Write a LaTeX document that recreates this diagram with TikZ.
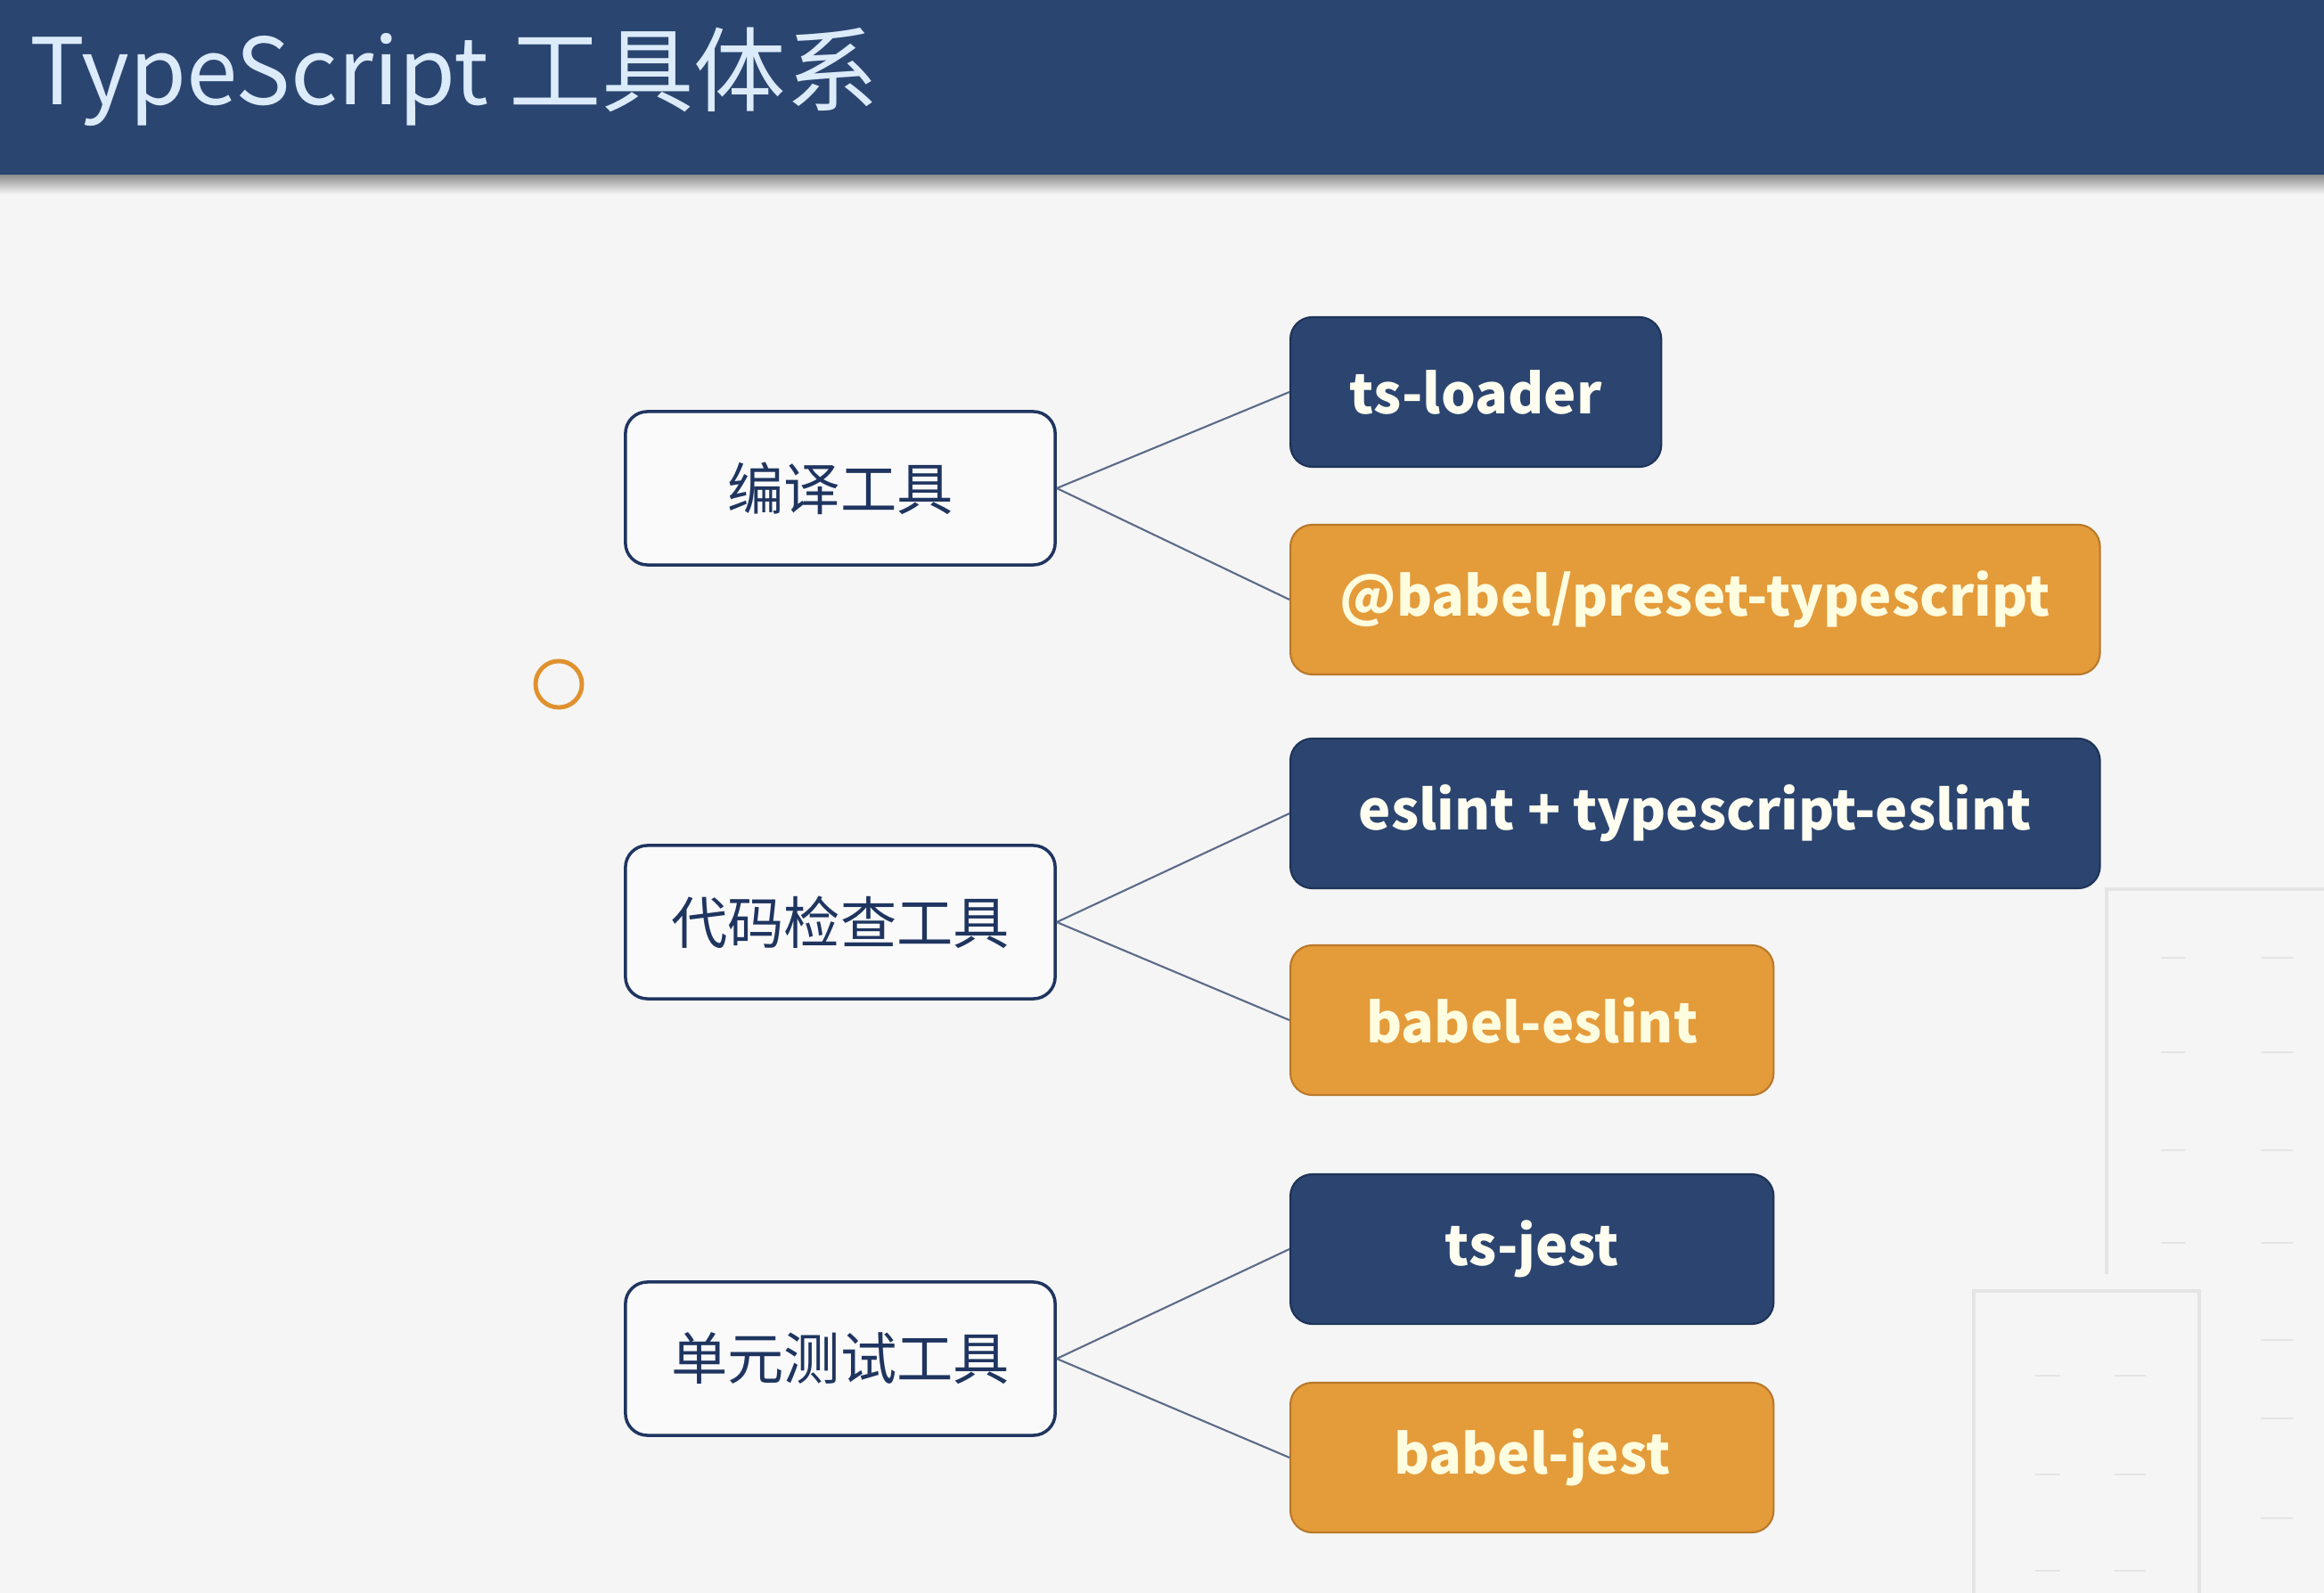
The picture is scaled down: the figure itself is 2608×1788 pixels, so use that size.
\documentclass[tikz,border=0pt]{standalone}
\usepackage{fontspec}
\setmainfont{Noto Sans CJK SC}
\usetikzlibrary{positioning}
\definecolor{pagebg}{HTML}{F5F5F5}
\definecolor{barfill}{HTML}{2A4570}
\definecolor{titletext}{HTML}{DCEBFA}
\definecolor{navyfill}{HTML}{2B4570}
\definecolor{navyframe}{HTML}{1E3358}
\definecolor{orangefill}{HTML}{E49B3A}
\definecolor{orangeframe}{HTML}{B9782A}
\definecolor{catframe}{HTML}{1F3560}
\definecolor{linkline}{HTML}{5B6B88}
\definecolor{ringcol}{HTML}{E0912E}
\definecolor{ghost}{HTML}{E4E4E4}
\tikzset{
  catbox/.style={
    draw=catframe,
    fill=white!50!pagebg,
    line width=1pt,
    rounded corners=7pt,
    minimum width=4.82cm,
    minimum height=1.72cm,
    text=catframe,
    font=\fontsize{18}{22}\selectfont
  },
  toolbox/.style={
    anchor=west,
    rounded corners=7pt,
    minimum height=1.68cm,
    line width=0.6pt,
    font=\fontsize{17.4}{21}\selectfont\bfseries
  },
  navybox/.style={toolbox, fill=navyfill, draw=navyframe, text=white!94!yellow},
  orangebox/.style={toolbox, fill=orangefill, draw=orangeframe, text=white!88!yellow},
  link/.style={draw=linkline, line width=0.6pt},
  ghostline/.style={draw=ghost, line width=1.2pt}
}

\begin{document}
\begin{tikzpicture}[x=0.01cm, y=-0.01cm]
  \useasboundingbox (0,0) rectangle (2608,1788);
  \fill[pagebg] (0,0) rectangle (2608,1788);

  % faint frames left over at the lower right
  \draw[ghostline] (2364,1430) -- (2364,998) -- (2608,998);
  \foreach \y in {1075,1181,1291,1395} {
    \draw[ghost] (2425,\y) -- (2452,\y);
  }
  \foreach \y in {1075,1181,1291,1395,1504,1592,1704} {
    \draw[ghost] (2537,\y) -- (2573,\y);
  }
  \draw[ghostline] (2215,1788) -- (2215,1449) -- (2468,1449) -- (2468,1788);
  \foreach \y in {1544,1655,1763} {
    \draw[ghost] (2284,\y) -- (2312,\y);
    \draw[ghost] (2373,\y) -- (2408,\y);
  }

  % title bar
  \shade[top color=black!45, bottom color=pagebg] (0,196) rectangle (2608,218);
  \fill[barfill] (0,0) rectangle (2608,196);
  \node[anchor=base west, inner sep=0pt, text=titletext, font=\fontsize{29.4}{35}\selectfont] (title) at (33,118) {TypeScript 工具体系};

  % categories
  \node[catbox] (compile) at (943,548) {编译工具};
  \node[catbox] (lint) at (943,1035) {代码检查工具};
  \node[catbox] (test) at (943,1525) {单元测试工具};

  % tools
  \node[navybox, minimum width=4.16cm] (tsloader) at (1447,440) {ts-loader};
  \node[orangebox, minimum width=9.08cm] (presetts) at (1447,673) {@babel/preset-typescript};
  \node[navybox, minimum width=9.08cm] (tseslint) at (1447,913) {eslint + typescript-eslint};
  \node[orangebox, minimum width=5.42cm] (babeleslint) at (1447,1145) {babel-eslint};
  \node[navybox, minimum width=5.42cm] (tsjest) at (1447,1402) {ts-jest};
  \node[orangebox, minimum width=5.42cm] (babeljest) at (1447,1636) {babel-jest};

  \draw[link] (compile.east) -- (tsloader.west);
  \draw[link] (compile.east) -- (presetts.west);
  \draw[link] (lint.east) -- (tseslint.west);
  \draw[link] (lint.east) -- (babeleslint.west);
  \draw[link] (test.east) -- (tsjest.west);
  \draw[link] (test.east) -- (babeljest.west);

  \node[circle, draw=ringcol, line width=1.4pt, minimum size=0.52cm, inner sep=0pt] (ring) at (627,768) {};

\end{tikzpicture}
\end{document}
